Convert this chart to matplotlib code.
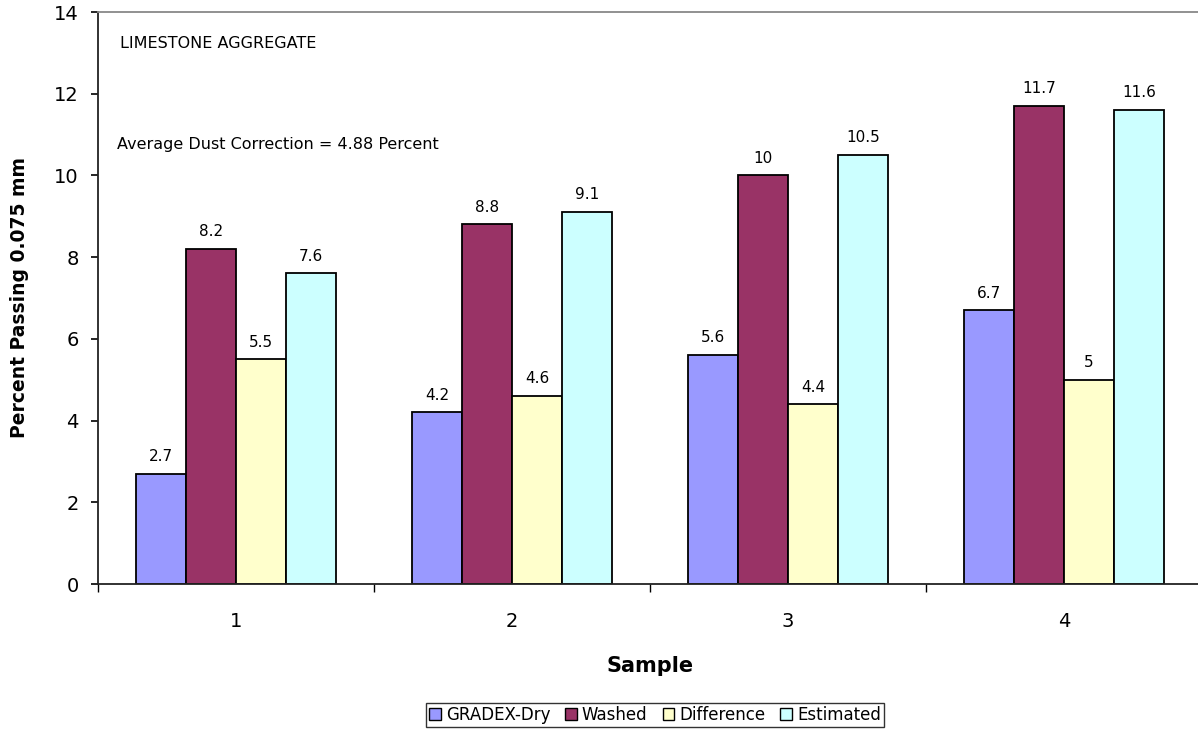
import matplotlib
matplotlib.use("Agg")
import matplotlib.pyplot as plt
import numpy as np
from matplotlib.patches import Patch

plt.rcParams['font.family'] = ['DejaVu Sans']

samples = ["1", "2", "3", "4"]
series_names = ["GRADEX-Dry", "Washed", "Difference", "Estimated"]
gradex_dry = [2.7, 4.2, 5.6, 6.7]
washed = [8.2, 8.8, 10.0, 11.7]
difference = [5.5, 4.6, 4.4, 5.0]
estimated = [7.6, 9.1, 10.5, 11.6]
value_labels = [
    ["2.7", "4.2", "5.6", "6.7"],
    ["8.2", "8.8", "10", "11.7"],
    ["5.5", "4.6", "4.4", "5"],
    ["7.6", "9.1", "10.5", "11.6"],
]
colors = ["#9999FF", "#993366", "#FFFFCC", "#CCFFFF"]

fig = plt.figure(figsize=(11.98, 7.30), dpi=100)
ax = fig.add_axes([98 / 1198, 1 - 584 / 730, 1104 / 1198, 572 / 730])

x = np.arange(1, len(samples) + 1)
width = 50 / 276
all_series = [gradex_dry, washed, difference, estimated]
for i, (vals, col, labs) in enumerate(zip(all_series, colors, value_labels)):
    pos = x + (i - 1.5) * width
    ax.bar(pos, vals, width=width, color=col, edgecolor="black", linewidth=1.3, zorder=2)
    for p, v, t in zip(pos, vals, labs):
        ax.annotate(t, (p, v), xytext=(0, 7), textcoords="offset points",
                    ha="center", va="bottom", fontsize=11)

ax.set_xlim(0.5, 4.5)
ax.set_ylim(0, 14)
ax.set_yticks(np.arange(0, 15, 2))
ax.tick_params(axis="y", direction="out", length=5, width=1.2, labelsize=14, pad=9)
ax.set_xticks(x)
ax.set_xticklabels(samples)
ax.set_xticks(np.arange(0.5, 4.6, 1), minor=True)
ax.tick_params(axis="x", which="major", length=0, labelsize=14, pad=20)
ax.tick_params(axis="x", which="minor", direction="out", length=6, width=1)

for s in ["left", "bottom"]:
    ax.spines[s].set_color("#222222")
    ax.spines[s].set_linewidth(1.3)
ax.spines["top"].set_color("#888888")
ax.spines["top"].set_linewidth(1.3)
ax.spines["right"].set_visible(False)

ax.set_ylabel("Percent Passing 0.075 mm", fontsize=13.5, fontweight="bold")
ax.yaxis.set_label_coords((29 - 98) / 1104, 0.5)
ax.set_xlabel("Sample", fontsize=15, fontweight="bold", labelpad=18)

ax.text(120 / 1198, 1 - 43 / 730, "LIMESTONE AGGREGATE", transform=fig.transFigure,
        fontsize=11.5, ha="left", va="center")
ax.text(117 / 1198, 1 - 145 / 730, "Average Dust Correction = 4.88 Percent",
        transform=fig.transFigure, fontsize=11.5, ha="left", va="center")

handles = [Patch(facecolor=c, edgecolor="black", linewidth=1) for c in colors]
leg = fig.legend(handles, series_names, loc="center", bbox_to_anchor=(655 / 1198, 1 - 715 / 730),
                 ncol=4, fontsize=12, frameon=True, fancybox=False, handlelength=0.7,
                 handleheight=0.7, handletextpad=0.3, columnspacing=0.9, borderpad=0.2,
                 borderaxespad=0)
leg.get_frame().set_edgecolor("black")
leg.get_frame().set_linewidth(1)

fig.savefig("out.png", dpi=100)
